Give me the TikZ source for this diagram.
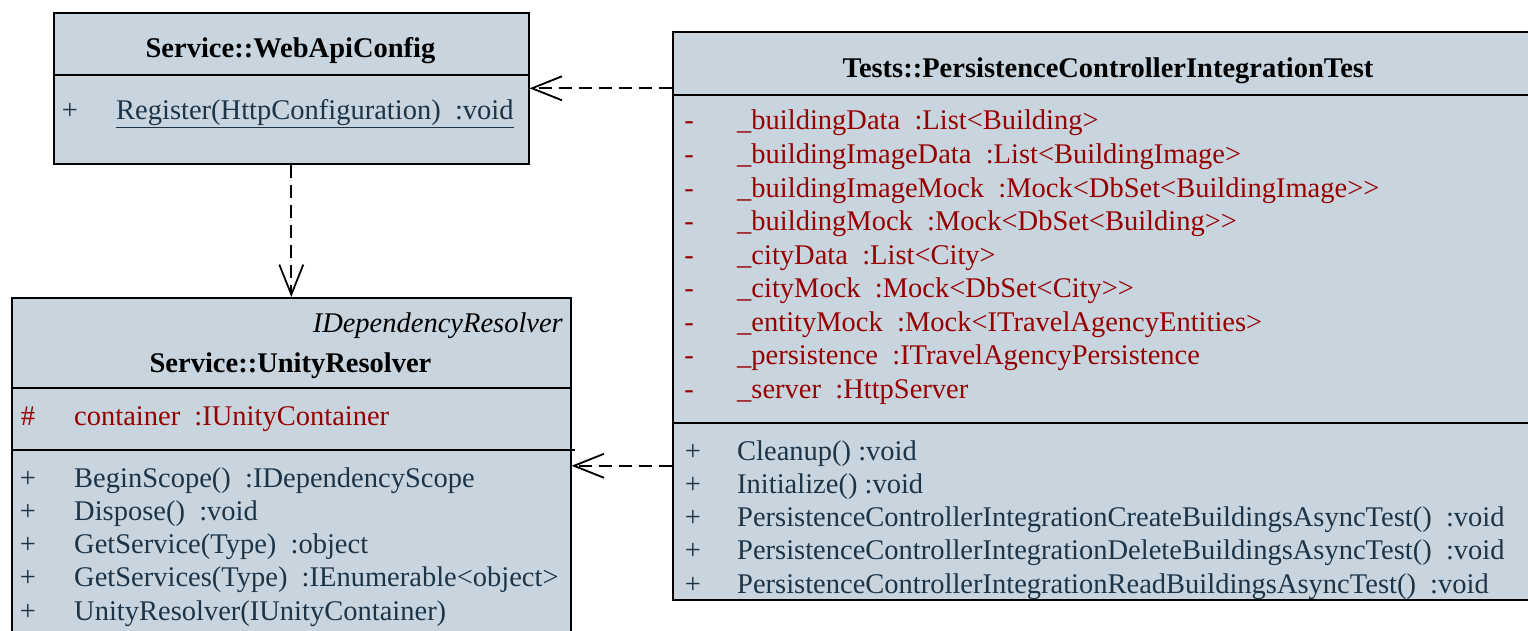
\documentclass[tikz,border=0pt]{standalone}
\usepackage{fontspec}
\setmainfont{Liberation Serif}
\usetikzlibrary{arrows.meta}

\definecolor{classfill}{RGB}{200,213,222}
\definecolor{attrred}{RGB}{150,0,0}
\definecolor{opblue}{RGB}{28,52,72}

\tikzset{
  classbox/.style={draw=black, line width=1.6pt, fill=classfill, anchor=north west, inner sep=0pt},
  divider/.style={black, line width=1.6pt},
  txt/.style={inner sep=0pt, font=\fontsize{28.5}{32}\selectfont},
  member/.style={txt, anchor=base west},
  vis/.style={txt, anchor=base},
  dep/.style={line width=2pt, dash pattern=on 13pt off 7pt, -{Straight Barb[length=30pt,width=24pt,line width=1.8pt]}}
}

\begin{document}
\begin{tikzpicture}[x=1pt, y=-1pt]
  \useasboundingbox (0,0) rectangle (1528,631);
  \clip (0,0) rectangle (1528,631);

  % WebApiConfig
  \node[classbox, minimum width=475pt, minimum height=151pt] (web) at (53,12) {};
  \draw[divider] (web.west |- 0,75) -- (web.east |- 0,75);
  \node[vis, font=\fontsize{28.5}{32}\selectfont\bfseries] (webtitle) at (290.5,58) {Service::WebApiConfig};
  \node[vis, text=opblue] (webvis1) at (70,120) {+};
  \node[member, text=opblue] (webop1) at (116,120) {\underline{Register(HttpConfiguration)~ :void}};

  % UnityResolver
  \node[classbox, minimum width=559pt, minimum height=336pt] (unity) at (11,297) {};
  \draw[divider] (unity.west |- 0,388) -- (unity.east |- 0,388);
  \draw[divider] (unity.west |- 0,450) -- ([xshift=3pt]unity.east |- 0,450);
  \node[txt, anchor=base east, font=\fontsize{28.5}{32}\selectfont\itshape] (unitystereo) at (563,332) {IDependencyResolver};
  \node[vis, font=\fontsize{28.5}{32}\selectfont\bfseries] (unitytitle) at (290.5,372) {Service::UnityResolver};
  \node[vis, text=attrred] (unityvis0) at (28,425) {\#};
  \node[member, text=attrred] (unityattr) at (74,425) {container~ :IUnityContainer};
  \foreach \op [count=\i] in {BeginScope()~ :IDependencyScope, Dispose()~ :void,
      GetService(Type)~ :object, GetServices(Type)~ :IEnumerable<object>,
      UnityResolver(IUnityContainer)} {
    \node[vis, text=opblue] (unityvis\i) at (28,{487+33.3*(\i-1)}) {+};
    \node[member, text=opblue] (unityop\i) at (74,{487+33.3*(\i-1)}) {\op};
  }

  % PersistenceControllerIntegrationTest
  \node[classbox, minimum width=872pt, minimum height=568pt] (test) at (672,31) {};
  \draw[divider] (test.west |- 0,95) -- (test.east |- 0,95);
  \draw[divider] (test.west |- 0,423) -- (test.east |- 0,423);
  \node[vis, font=\fontsize{28.5}{32}\selectfont\bfseries] (testtitle) at (1108,78) {Tests::PersistenceControllerIntegrationTest};
  \foreach \att [count=\i] in {\_buildingData~ :List<Building>, \_buildingImageData~ :List<BuildingImage>,
      \_buildingImageMock~ :Mock<DbSet<BuildingImage>{}>, \_buildingMock~ :Mock<DbSet<Building>{}>,
      \_cityData~ :List<City>, \_cityMock~ :Mock<DbSet<City>{}>,
      \_entityMock~ :Mock<ITravelAgencyEntities>, \_persistence~ :ITravelAgencyPersistence,
      \_server~ :HttpServer} {
    \node[vis, text=attrred] (testvis\i) at (689,{130+33.5*(\i-1)}) {-};
    \node[member, text=attrred] (testattr\i) at (737,{130+33.5*(\i-1)}) {\att};
  }
  \foreach \op [count=\i] in {Cleanup() :void, Initialize() :void,
      PersistenceControllerIntegrationCreateBuildingsAsyncTest()~ :void,
      PersistenceControllerIntegrationDeleteBuildingsAsyncTest()~ :void,
      PersistenceControllerIntegrationReadBuildingsAsyncTest()~ :void} {
    \node[vis, text=opblue] (testvis op\i) at (693,{460+33.3*(\i-1)}) {+};
    \node[member, text=opblue] (testop\i) at (737,{460+33.3*(\i-1)}) {\op};
  }

  % dependencies
  \draw[dep] (web.south) -- (unity.north);
  \draw[dep] (test.west |- web.east) -- (web.east);
  \draw[dep] (test.west |- unity.east) -- (unity.east);
\end{tikzpicture}
\end{document}
